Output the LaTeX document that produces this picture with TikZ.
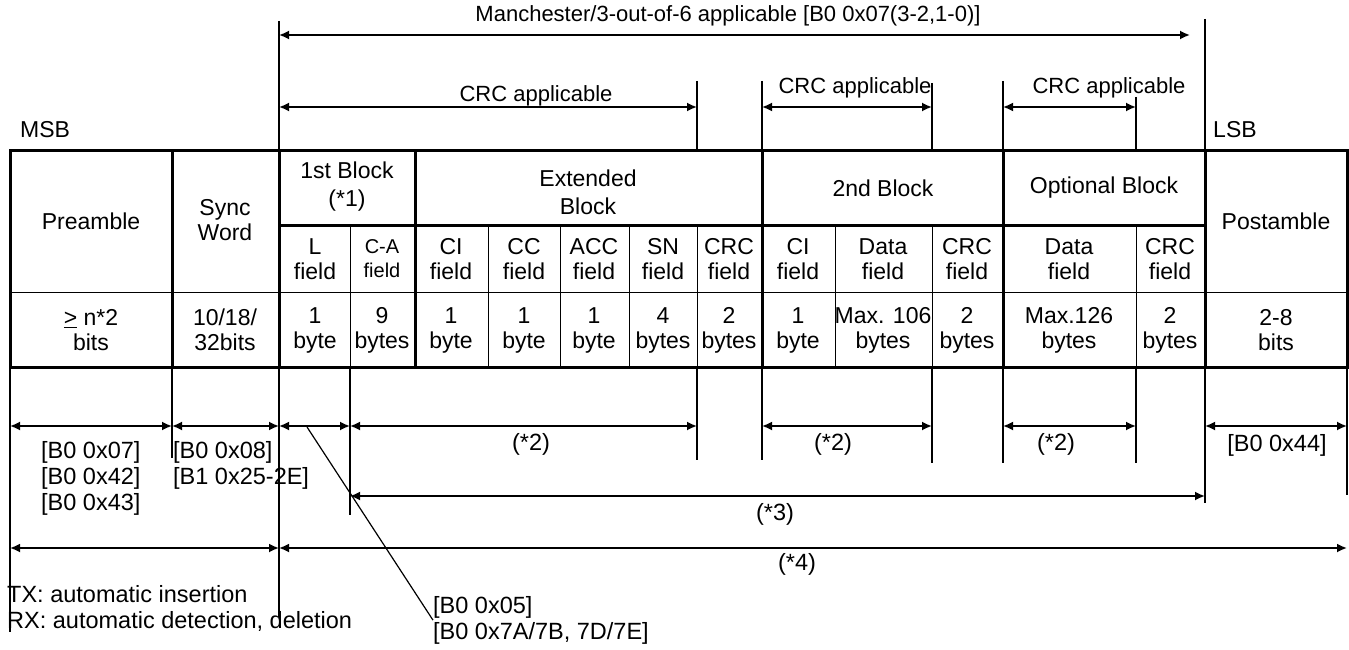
\documentclass[tikz,border=0pt]{standalone}
\usepackage{fontspec}
\setmainfont{Liberation Sans}
\usetikzlibrary{arrows.meta}
\tikzset{
  dim/.style={line width=1.8pt,{Latex[length=10pt,width=9pt]}-{Latex[length=10pt,width=9pt]}},
  guide/.style={line width=1.5pt},
  frame/.style={line width=3pt},
  cell/.style={line width=1pt},
  lbl/.style={inner sep=0pt,align=center,font=\fontsize{23}{25}\selectfont},
  head/.style={lbl,font=\fontsize{23}{28}\selectfont},
  note/.style={inner sep=0pt,align=left,font=\fontsize{22}{24}\selectfont},
  lownote/.style={inner sep=0pt,align=left,font=\fontsize{23.5}{26}\selectfont},
}
\begin{document}
\begin{tikzpicture}[x=1pt,y=-1pt]
\useasboundingbox (0,0) rectangle (1349,650);
% column edges of the frame
\foreach \nm/\x in {a/10,b/172,c/279,d/350,e/415,f/488,g/560,h/629,i/697,
  j/762,k/835,l/932,m/1003,n/1136,o/1205,p/1347}
  \coordinate (c\nm) at (\x,0);

% frame table
\draw[frame] (ca |- 0,151) rectangle (cp |- 0,367);
\foreach \nm in {b,c,e,j,m,o} \draw[frame] (c\nm |- 0,151) -- (c\nm |- 0,367);
\draw[frame] (cc |- 0,225) -- (co |- 0,225);
\draw[cell] (ca |- 0,292) -- (cp |- 0,292);
\foreach \nm in {d,f,g,h,i,k,l,n} \draw[cell] (c\nm |- 0,225) -- (c\nm |- 0,367);

% guide lines above and below
\foreach \nm/\y in {c/21,o/19,i/81,j/81,l/83,m/81,n/97}
  \draw[guide] (c\nm |- 0,\y) -- (c\nm |- 0,151);
\foreach \nm/\y in {a/632,b/458,c/617,d/515,i/460,j/460,l/463,m/463,n/463,o/503,p/495}
  \draw[guide] (c\nm |- 0,367) -- (c\nm |- 0,\y);

% cells
\node[lbl] (pre) at (91,221) {Preamble};
\node[lbl] (sync) at (225,220) {Sync\\Word};
\node[lbl] (post) at (1276,221) {Postamble};
\node[head] (blk1) at (347,187) {1st Block\\(*1)};
\node[head] (blkx) at (588,192) {Extended\\Block};
\node[head] (blk2) at (883,188) {2nd Block};
\node[head] (blko) at (1104,188) {Optional Block};
\foreach \nm/\x/\t in {l/315/{L\\field},ci/451/{CI\\field},cc/524/{CC\\field},
  acc/594/{ACC\\field},sn/663/{SN\\field},crc/729/{CRC\\field},cib/798/{CI\\field},
  dat/883/{Data\\field},crcb/967/{CRC\\field},dato/1069/{Data\\field},crco/1170/{CRC\\field}}
  \node[lbl] (f\nm) at (\x,259) {\t};
\node[lbl,font=\fontsize{20}{24}\selectfont] (fca) at (382,259) {C-A\\field};
\foreach \nm/\x/\t in {pre/91/{\underline{>} n*2\\bits},sync/225/{10/18/\\32bits},
  l/315/{1\\byte},ca/382/{9\\bytes},ci/451/{1\\byte},cc/524/{1\\byte},acc/594/{1\\byte},
  sn/663/{4\\bytes},crc/729/{2\\bytes},cib/798/{1\\byte},dat/883/{Max. 106\\bytes},
  crcb/967/{2\\bytes},dato/1069/{Max.126\\bytes},crco/1170/{2\\bytes},post/1276/{2-8\\bits}}
  \node[lbl] (s\nm) at (\x,330) {\t};

% spans above the frame
\coordinate (mend) at (1190,35);
\draw[dim] (cc |- 0,35) -- (mend);
\node[note] (manch) at (728,16) {Manchester/3-out-of-6 applicable [B0 0x07(3-2,1-0)]};
\draw[dim] (cc |- 0,107) -- (ci |- 0,107);
\draw[dim] (cj |- 0,107) -- (cl |- 0,107);
\draw[dim] (cm |- 0,107) -- (cn |- 0,107);
\node[note] (crc1) at (536,96) {CRC applicable};
\node[note] (crc2) at (855,88) {CRC applicable};
\node[note] (crc3) at (1109,88) {CRC applicable};
\node[note,font=\fontsize{23}{24}\selectfont,anchor=west] (msb) at (20,130) {MSB};
\node[note,font=\fontsize{23}{24}\selectfont,anchor=west] (lsb) at (1213,130) {LSB};

% spans below the frame
\foreach \p/\q in {a/b,b/c,c/d,d/i,j/l,m/n,o/p}
  \draw[dim] (c\p |- 0,426) -- (c\q |- 0,426);
\draw[dim] (cd |- 0,496) -- (co |- 0,496);
\draw[dim] (ca |- 0,548) -- (cc |- 0,548);
\draw[dim] (cc |- 0,548) -- (cp |- 0,548);
\node[lownote] (two1) at (531,444) {(*2)};
\node[lownote] (two2) at (833,444) {(*2)};
\node[lownote] (two3) at (1056,444) {(*2)};
\node[lownote] (pst) at (1277,445) {[B0 0x44]};
\node[lownote] (three) at (775,514) {(*3)};
\node[lownote] (four) at (797,564) {(*4)};
\node[lownote,anchor=north west] (prenote) at (41,441) {[B0 0x07]\\{}[B0 0x42]\\{}[B0 0x43]};
\node[lownote,anchor=north west] (syncnote) at (173,441) {[B0 0x08]\\{}[B1 0x25-2E]};
\node[lownote,anchor=north west] (txrx) at (7,585) {TX: automatic insertion\\RX: automatic detection, deletion};
\node[lownote,anchor=north west] (lnote) at (433,596) {[B0 0x05]\\{}[B0 0x7A/7B, 7D/7E]};
\coordinate (lead) at (307,427);
\draw[line width=1.2pt] (lead) -- (lnote.west);
\end{tikzpicture}
\end{document}
